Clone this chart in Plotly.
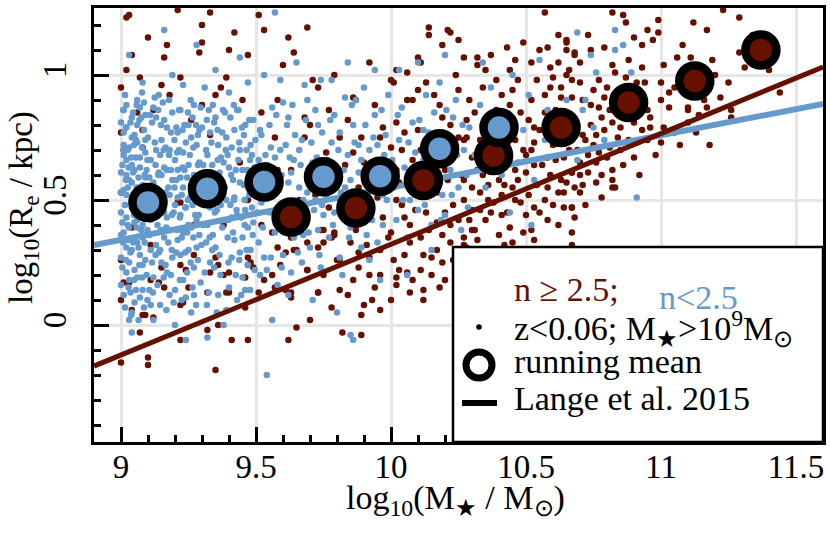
import numpy as np
import plotly.graph_objects as go

# galaxies with Sersic n >= 2.5  (log10 M*, log10 Re)
red_pts = [
    (9.02, 1.23), (9.03, 1.24), (9.21, 1.26), (9.33, 1.25), (9.30, 1.20), (9.42, 1.17), (9.10, 1.15),
    (9.17, 1.12), (9.30, 1.13), (9.29, 1.09), (9.04, 1.08), (9.16, 1.07), (9.02, 1.02), (9.22, 0.99),
    (9.39, 0.99), (9.07, 0.99), (9.00, 0.95), (9.15, 0.96), (9.37, 0.95), (9.12, 0.86), (9.00, 0.77),
    (9.08, 0.78), (9.33, 0.76), (9.57, 0.75), (9.30, 0.88), (9.08, 0.71), (9.22, 0.49), (9.00, 0.53),
    (9.00, 0.10), (9.04, 0.06), (9.08, 0.04), (9.12, 0.03), (9.07, -0.03), (9.00, -0.15), (9.10, -0.13),
    (9.10, -0.16), (9.35, -0.18), (9.32, 0.13), (9.22, 0.08), (9.22, -0.06), (9.32, -0.02), (9.36, 0.00),
    (9.41, -0.06), (9.47, -0.06), (9.40, 0.13), (9.46, 0.07), (9.49, 0.23), (9.38, 0.20), (9.33, 0.21),
    (9.14, 0.17), (9.11, 0.18), (9.01, 0.17), (9.24, 0.22), (9.40, 0.21), (9.46, 0.19), (9.21, 0.49),
    (9.04, 0.39), (9.11, 0.32), (9.00, 0.26), (9.03, 0.17), (9.15, 0.23), (9.25, 0.15), (9.23, 0.09),
    (9.09, 0.04), (9.36, 0.24), (9.39, 0.13), (9.27, 0.28), (9.47, 0.24), (9.46, 0.50), (9.35, 0.27),
    (9.22, 0.24), (9.16, 0.15), (9.51, 1.24), (9.53, 1.18), (9.47, 1.08), (9.60, 1.04),
    (9.69, 1.19), (9.62, 1.15), (9.64, 1.09), (9.71, 0.98), (9.79, 1.00), (9.73, 0.95), (9.86, 0.91),
    (10.00, 0.98), (10.06, 1.01), (9.97, 0.79), (10.02, 0.81), (9.77, 0.86), (9.68, 0.83), (9.68, 0.75),
    (9.89, 0.75), (9.86, 0.69), (9.90, 0.65), (9.76, 0.69), (9.83, 0.64), (9.92, 1.05), (10.02, 1.02),
    (9.81, 0.75), (9.70, 0.80), (9.96, 0.75), (10.00, 0.71), (9.47, 0.50), (9.63, 0.62), (9.69, 0.33),
    (9.75, 0.38), (9.78, 0.35), (9.80, 0.26), (9.56, 0.37), (9.58, 0.31), (9.59, 0.24), (9.56, 0.20),
    (9.63, 0.13), (9.69, 0.22), (9.73, 0.13), (9.48, 0.25), (9.53, 0.18), (9.57, 0.15), (9.65, -0.01),
    (9.51, 0.13), (9.47, 0.27), (9.82, -0.03), (9.89, -0.04), (9.89, 0.04), (9.90, 0.08), (9.96, 0.06),
    (9.93, 0.10), (9.73, 0.13), (9.63, 0.11), (9.81, 0.14), (9.96, 0.20), (10.02, 0.16), (10.02, 0.19),
    (10.12, 0.14), (10.12, 0.10), (10.18, 0.15), (9.92, 0.20), (9.88, 0.23), (10.06, 0.21), (10.08, 0.18),
    (10.03, 0.22), (10.11, 0.22), (10.19, 0.25), (9.69, 0.22), (9.61, 0.14), (9.65, 0.30), (9.81, 0.26),
    (9.88, 0.29), (9.92, 0.27), (10.01, 0.26), (10.05, 0.28), (10.15, 0.27), (9.63, 0.35), (9.75, 0.33),
    (9.85, 0.33), (9.96, 0.30), (9.99, 0.35), (9.74, 0.38), (9.79, 0.37), (9.91, 0.32), (9.64, 0.30),
    (9.61, 0.29), (9.73, 0.31), (9.79, 0.36), (9.87, 0.38), (9.84, 0.43), (9.90, 0.45), (9.95, 0.51),
    (9.97, 0.43), (10.00, 0.37), (10.02, 0.50), (10.05, 0.43), (10.07, 0.33), (10.11, 0.35), (10.14, 0.38),
    (10.17, 0.41), (10.20, 0.45), (10.23, 0.48), (10.27, 0.50), (10.30, 0.55), (10.33, 0.53), (10.36, 0.56),
    (10.40, 0.58), (10.44, 0.65), (10.45, 0.55), (10.50, 0.61), (10.54, 0.56), (10.58, 0.55), (10.62, 0.53),
    (10.67, 0.47), (10.68, 0.55), (10.63, 0.58), (10.67, 0.61), (10.64, 0.67), (10.58, 0.67), (10.56, 0.64),
    (10.50, 0.68), (10.53, 0.79), (10.57, 0.85), (10.53, 0.73), (10.46, 0.74), (10.51, 0.82), (10.67, 0.98),
    (10.63, 0.91), (10.59, 0.95), (10.52, 0.90), (10.45, 0.94), (10.54, 0.98), (10.66, 1.02), (10.62, 1.05),
    (10.59, 1.03), (10.68, 1.08), (10.65, 1.10), (10.65, 1.14), (10.58, 1.11), (10.62, 1.16), (10.57, 1.25),
    (10.25, 0.94), (10.34, 0.95), (10.39, 0.98), (10.44, 1.02), (10.52, 1.05), (10.46, 1.06), (10.49, 1.13),
    (10.43, 1.11), (10.37, 1.08), (10.27, 1.07), (10.32, 1.04), (10.32, 1.07), (10.25, 1.14), (10.10, 1.07),
    (10.19, 1.12), (10.22, 1.17), (10.21, 1.18), (10.14, 1.16), (10.14, 1.19), (10.11, 1.05), (10.33, 0.74),
    (10.30, 0.67), (10.27, 0.74), (10.33, 0.46), (10.38, 0.49), (10.43, 0.45), (10.48, 0.49), (10.49, 0.37),
    (10.44, 0.39), (10.40, 0.36), (10.30, 0.38), (10.27, 0.35), (10.22, 0.33), (10.17, 0.30), (10.12, 0.28),
    (10.01, 0.97), (10.08, 0.90), (9.87, 0.90), (10.10, 0.94), (10.31, 0.38), (10.32, 0.34), (10.23, 0.26),
    (10.28, 0.31), (10.27, 0.32), (10.82, 1.25), (10.86, 1.24), (10.87, 1.21), (10.99, 1.22), (11.12, 1.21),
    (11.17, 1.18), (11.23, 1.26), (11.29, 1.23), (10.95, 1.18), (10.93, 1.12), (10.97, 1.14), (10.99, 1.17),
    (10.79, 1.11), (10.74, 1.10), (10.70, 1.05), (10.65, 1.13), (10.68, 1.09), (10.73, 1.16), (10.88, 1.06),
    (10.82, 1.04), (10.83, 1.01), (10.93, 1.03), (11.01, 1.04), (11.06, 1.07), (11.11, 1.07), (11.19, 1.06),
    (11.29, 1.09), (11.31, 1.03), (11.40, 1.02), (11.25, 0.97), (11.16, 0.90), (11.10, 0.86), (11.44, 0.93),
    (11.26, 0.83), (11.00, 0.97), (11.03, 0.93), (11.00, 0.90), (10.94, 0.97), (10.89, 0.94), (10.87, 0.99),
    (10.77, 0.98), (10.75, 0.94), (10.70, 0.97), (10.65, 1.00), (10.67, 0.91), (10.77, 0.87), (10.79, 0.91),
    (10.95, 0.86), (10.96, 0.83), (11.03, 0.87), (11.10, 0.87), (11.17, 0.87), (11.14, 0.84), (11.10, 0.81),
    (11.01, 0.79), (10.96, 0.79), (10.90, 0.81), (10.93, 0.78), (10.85, 0.79), (10.82, 0.81), (10.78, 0.83),
    (10.74, 0.80), (10.71, 0.76), (10.67, 0.74), (10.75, 0.72), (10.81, 0.71), (10.85, 0.70), (10.91, 0.73),
    (10.95, 0.74), (11.00, 0.73), (11.05, 0.77), (11.13, 0.77), (11.18, 0.72), (11.26, 0.86), (10.80, 0.67),
    (10.76, 0.65), (10.70, 0.65), (10.67, 0.61), (10.73, 0.61), (10.82, 0.62), (10.82, 0.58), (10.82, 0.55),
    (10.83, 0.55), (10.76, 0.57), (10.70, 0.53), (10.64, 0.53), (10.67, 0.47), (10.67, 0.32), (10.65, 0.57),
    (10.64, 0.47), (10.68, 0.43), (10.67, 0.37),
    (10.02, 0.62), (10.04, 0.70), (10.06, 0.57), (10.08, 0.66), (10.10, 0.78), (10.13, 0.62), (10.15, 0.71),
    (10.17, 0.53), (10.19, 0.83), (10.21, 0.58), (10.23, 0.68), (10.26, 0.60), (10.28, 0.82), (10.30, 0.46),
    (10.32, 0.62), (10.35, 0.70), (10.37, 0.45), (10.39, 0.86), (10.41, 0.52), (10.43, 0.72), (10.46, 0.62),
    (10.48, 0.85), (10.50, 0.44), (10.52, 0.70), (10.55, 0.78), (10.57, 0.50), (10.60, 0.72), (10.61, 0.86),
    (10.64, 0.78), (10.66, 0.84), (10.69, 0.70), (10.71, 0.90), (10.73, 0.68), (10.76, 0.76), (10.78, 0.60),
    (10.80, 0.95), (10.84, 0.88), (10.86, 0.64), (10.88, 0.74), (10.90, 0.67), (10.06, 0.90), (10.13, 0.97),
    (10.18, 0.88), (10.24, 1.00), (10.29, 0.90), (10.35, 1.02), (10.41, 0.92), (10.47, 0.98), (10.55, 1.10),
    (10.60, 0.99), (10.07, 0.40), (10.13, 0.45), (10.19, 0.36), (10.25, 0.42), (10.35, 0.42), (10.41, 0.44),
    (10.46, 0.50), (10.53, 0.47), (10.58, 0.42), (10.62, 0.40), (10.39, 0.30), (10.45, 0.33), (10.52, 0.38),
    (10.56, 0.30), (10.60, 0.48), (10.71, 0.56), (10.78, 0.51), (10.72, 0.48), (10.34, 0.80), (10.42, 0.82),
    (10.28, 0.75), (10.22, 0.80), (10.16, 0.66), (10.09, 0.55), (10.04, 0.48), (9.98, 0.56), (9.93, 0.58),
    (9.88, 0.55), (9.82, 0.50), (9.77, 0.47), (9.72, 0.52), (9.66, 0.50), (9.60, 0.45), (9.55, 0.55),
    (9.52, 0.40), (9.58, 0.62), (9.70, 0.62), (9.84, 0.82), (9.94, 0.88), (9.58, 0.90), (9.52, 0.85),
    (9.45, 0.90), (9.40, 1.10), (9.35, 0.92), (9.26, 0.82), (9.18, 0.92), (9.06, 0.85), (9.44, 0.65),
    (9.38, 0.40), (9.27, 0.40), (9.13, 0.44), (9.06, 0.50), (9.62, -0.06), (9.70, 0.02), (9.78, 0.07),
    (9.84, 0.12), (9.75, 0.20), (9.86, 0.18), (9.94, 0.15), (10.00, 0.10), (10.07, 0.13), (10.15, 0.20),
    (10.20, 0.18), (10.24, 0.22), (10.28, 0.24), (10.33, 0.27), (10.36, 0.30), (10.42, 0.32), (10.48, 0.30),
    (10.53, 0.34), (11.05, 0.95), (11.08, 1.12), (11.15, 0.96), (11.20, 1.00), (11.22, 0.91), (11.34, 1.16),
    (10.92, 0.60), (10.98, 0.68), (11.07, 0.72), (10.90, 1.15),
    (10.03, 0.57), (10.05, 0.77), (10.09, 0.46), (10.11, 0.70), (10.14, 0.52), (10.16, 0.92), (10.20, 0.62),
    (10.22, 0.40), (10.25, 0.75), (10.27, 0.58), (10.29, 0.42), (10.31, 0.85), (10.34, 0.60), (10.36, 0.50),
    (10.38, 0.76), (10.40, 0.66), (10.42, 0.56), (10.44, 0.88), (10.47, 0.58), (10.49, 0.70), (10.51, 0.52),
    (10.53, 0.64), (10.55, 0.45), (10.57, 0.92), (10.59, 0.60), (10.61, 0.66), (10.63, 0.95), (10.66, 0.70),
    (10.68, 0.82), (10.70, 0.60), (10.72, 0.74), (10.74, 0.88), (10.77, 0.69), (10.79, 0.78), (10.81, 0.86),
    (10.84, 0.75), (10.86, 0.92), (10.89, 0.86), (10.91, 0.97), (10.94, 0.90),
]

# galaxies with Sersic n < 2.5
blue_pts = [
    (9.01, 0.12), (9.02, 0.31), (9.00, 0.45), (9.03, 0.58), (9.01, 0.72), (9.04, 0.83), (9.02, 0.66),
    (9.05, 0.22), (9.03, 0.39), (9.00, 0.27), (9.06, 0.51), (9.04, 0.05), (9.02, 0.88), (9.07, 0.63),
    (9.01, 0.54), (9.05, 0.76), (9.08, 0.35), (9.03, 0.18), (9.06, 0.42), (9.09, 0.69), (9.00, 0.61),
    (9.07, 0.28), (9.04, 0.47), (9.02, 0.79), (9.08, 0.56), (9.05, 0.09), (9.09, 0.84), (9.01, 0.37),
    (9.06, 0.73), (9.03, 0.25), (9.07, 0.44), (9.00, 0.81), (9.04, 0.64), (9.08, 0.14), (9.02, 0.52),
    (9.06, 0.33), (9.09, 0.59), (9.05, 0.41), (9.01, 0.68), (9.07, 0.87), (9.03, 0.02), (9.08, 0.24),
    (9.00, 0.36), (9.04, 0.75), (9.06, 0.19), (9.02, 0.43), (9.09, 0.49), (9.05, 0.62), (9.01, 0.86),
    (9.07, 0.55), (9.03, 0.71), (9.08, 0.40), (9.04, 0.30), (9.06, 0.80), (9.00, 0.16), (9.09, 0.26),
    (9.02, 0.60), (9.05, 0.50), (9.07, 0.11), (9.01, 0.77), (9.04, -0.03), (9.06, 0.90), (9.03, 1.08),
    (9.08, 0.97), (9.05, 0.34), (9.02, 0.21), (9.09, 0.74), (9.00, 0.53), (9.07, 0.67), (9.04, 0.57),
    (9.11, 0.08), (9.13, 0.32), (9.12, 0.57), (9.15, 0.74), (9.14, 0.45), (9.17, 0.21), (9.16, 0.63),
    (9.19, 0.85), (9.18, 0.38), (9.21, 0.51), (9.20, 0.14), (9.23, 0.69), (9.22, 0.28), (9.25, 0.80),
    (9.24, 0.47), (9.27, 0.60), (9.26, 0.05), (9.29, 0.36), (9.28, 0.72), (9.11, 0.66), (9.13, 0.83),
    (9.15, 0.25), (9.17, 0.43), (9.19, 0.58), (9.21, 0.77), (9.23, 0.18), (9.25, 0.40), (9.27, 0.88),
    (9.29, 0.53), (9.12, 0.19), (9.14, 0.61), (9.16, 0.35), (9.18, 0.70), (9.20, 0.48), (9.22, 0.86),
    (9.24, 0.11), (9.26, 0.56), (9.28, 0.31), (9.11, 0.42), (9.13, 0.70), (9.15, 0.52), (9.17, 0.79),
    (9.19, 0.27), (9.21, 0.34), (9.23, 0.55), (9.25, 0.64), (9.27, 0.23), (9.29, 0.78), (9.12, 0.87),
    (9.14, 0.29), (9.16, 0.82), (9.18, 0.12), (9.20, 0.66), (9.22, 0.44), (9.24, 0.73), (9.26, 0.39),
    (9.28, 0.50), (9.10, 0.75), (9.13, 0.50), (9.17, 0.62), (9.21, 0.62), (9.25, 0.30), (9.29, 0.65),
    (9.14, 0.92), (9.19, 1.00), (9.23, 0.96), (9.28, 1.12), (9.16, 1.18), (9.12, 0.02), (9.20, 0.00),
    (9.24, -0.06), (9.27, 0.12), (9.15, 0.60), (9.22, 0.59), (9.18, 0.52), (9.26, 0.75), (9.11, 0.30),
    (9.28, 0.42), (9.23, 0.37), (9.16, 0.45), (9.31, 0.21), (9.33, 0.47), (9.32, 0.68), (9.35, 0.83),
    (9.34, 0.36), (9.37, 0.58), (9.36, 0.12), (9.39, 0.75), (9.38, 0.42), (9.41, 0.27), (9.40, 0.63),
    (9.43, 0.86), (9.42, 0.51), (9.45, 0.19), (9.44, 0.70), (9.47, 0.39), (9.46, 0.80), (9.49, 0.55),
    (9.48, 0.30), (9.31, 0.60), (9.33, 0.77), (9.35, 0.31), (9.37, 0.48), (9.39, 0.06), (9.41, 0.71),
    (9.43, 0.44), (9.45, 0.62), (9.47, 0.24), (9.49, 0.82), (9.32, 0.40), (9.34, 0.88), (9.36, 0.53),
    (9.38, 0.65), (9.40, 0.15), (9.42, 0.34), (9.44, 0.57), (9.46, 0.46), (9.48, 0.72), (9.30, 0.52),
    (9.33, 0.25), (9.36, 0.72), (9.39, 0.50), (9.42, 0.78), (9.45, 0.35), (9.48, 0.61), (9.31, 0.95),
    (9.35, 1.02), (9.40, 0.93), (9.44, 1.07), (9.47, 0.97), (9.32, -0.05), (9.38, 0.00), (9.43, 0.10),
    (9.46, 0.14), (9.34, 0.59), (9.41, 0.43), (9.37, 0.67), (9.49, 0.41), (9.44, 0.29), (9.30, 0.79),
    (9.51, 0.33), (9.53, 0.58), (9.52, 0.76), (9.55, 0.45), (9.54, 0.22), (9.57, 0.67), (9.56, 0.87),
    (9.59, 0.39), (9.58, 0.54), (9.61, 0.72), (9.60, 0.28), (9.63, 0.61), (9.62, 0.83), (9.65, 0.47),
    (9.64, 0.35), (9.67, 0.74), (9.66, 0.55), (9.69, 0.90), (9.68, 0.42), (9.71, 0.65), (9.70, 0.31),
    (9.73, 0.80), (9.72, 0.50), (9.74, 0.60), (9.52, 0.49), (9.55, 0.80), (9.58, 0.16), (9.61, 0.48),
    (9.64, 0.66), (9.67, 0.25), (9.70, 0.57), (9.73, 0.38), (9.54, 0.64), (9.57, 0.37), (9.60, 0.89),
    (9.63, 0.21), (9.66, 0.70), (9.69, 0.53), (9.72, 0.86), (9.75, 0.44), (9.54, -0.20), (9.56, 0.02),
    (9.62, 0.12), (9.71, 0.10), (9.53, 1.00), (9.59, 0.98), (9.65, 1.05), (9.68, 0.96), (9.57, 1.25),
    (9.74, 0.98), (9.51, 0.66), (9.59, 0.70), (9.66, 0.40), (9.62, 0.57), (9.74, 0.23), (9.53, 0.27),
    (9.76, 0.52), (9.78, 0.73), (9.77, 0.35), (9.80, 0.62), (9.79, 0.84), (9.82, 0.45), (9.81, 0.27),
    (9.84, 0.68), (9.83, 0.55), (9.86, 0.80), (9.85, 0.39), (9.88, 0.61), (9.87, 0.90), (9.90, 0.48),
    (9.89, 0.31), (9.92, 0.70), (9.91, 0.57), (9.94, 0.84), (9.93, 0.42), (9.96, 0.64), (9.95, 0.33),
    (9.98, 0.76), (9.97, 0.52), (9.99, 0.92), (9.77, 0.60), (9.81, 0.77), (9.85, 0.58), (9.89, 0.66),
    (9.93, 0.60), (9.97, 0.40), (9.79, 0.45), (9.83, 0.91), (9.87, 0.47), (9.91, 0.36), (9.95, 0.72),
    (9.99, 0.58), (9.80, 0.05), (9.86, -0.06), (9.85, -0.04), (9.96, 0.18), (9.78, 0.98), (9.84, 1.05),
    (9.90, 0.95), (9.94, 1.02), (9.82, 0.20), (9.88, 0.72), (9.92, 0.26), (10.01, 0.55), (10.03, 0.74),
    (10.02, 0.42), (10.05, 0.63), (10.04, 0.87), (10.07, 0.50), (10.06, 0.35), (10.09, 0.69), (10.08, 0.81),
    (10.11, 0.58), (10.10, 0.46), (10.13, 0.92), (10.12, 0.66), (10.15, 0.40), (10.14, 0.77), (10.17, 0.60),
    (10.16, 0.85), (10.19, 0.52), (10.18, 0.97), (10.21, 0.72), (10.20, 0.44), (10.23, 0.83), (10.22, 0.62),
    (10.25, 0.55), (10.24, 0.90), (10.27, 0.70), (10.26, 0.38), (10.29, 0.79), (10.28, 0.60), (10.03, 1.02),
    (10.10, 1.05), (10.20, 1.08), (10.06, 0.20), (10.15, 0.30), (10.25, 0.25), (10.12, 0.78), (10.31, 0.68),
    (10.33, 0.88), (10.35, 0.55), (10.37, 0.95), (10.39, 0.72), (10.41, 0.60), (10.43, 0.84), (10.45, 1.00),
    (10.47, 0.65), (10.49, 0.78), (10.51, 0.92), (10.53, 0.58), (10.55, 1.06), (10.57, 0.74), (10.34, 1.05),
    (10.44, 0.45), (10.52, 0.40), (10.58, 0.86), (10.69, 1.17), (10.83, 1.18), (10.83, 1.10), (10.86, 1.12),
    (10.74, 1.08), (10.76, 1.01), (10.89, 1.01), (10.65, 0.90), (10.72, 0.90), (10.71, 0.86), (10.75, 0.79),
    (10.79, 0.74), (10.69, 0.66), (10.91, 0.51),
    (9.015, 0.48), (9.025, 0.70), (9.035, 0.29), (9.045, 0.85), (9.055, 0.14), (9.065, 0.59), (9.075, 0.38),
    (9.085, 0.78), (9.095, 0.20), (9.005, 0.64), (9.015, 0.07), (9.025, 0.55), (9.035, 0.81), (9.045, 0.33),
    (9.055, 0.67), (9.065, 0.02), (9.075, 0.50), (9.085, 0.89), (9.095, 0.45), (9.005, 0.23), (9.015, 0.92),
    (9.025, 0.40), (9.035, 0.13), (9.045, 0.61), (9.055, 0.74), (9.065, 0.31), (9.075, 0.83), (9.085, 0.07),
    (9.095, 0.62), (9.005, 0.41), (9.105, 0.36), (9.115, 0.81), (9.125, 0.47), (9.135, 0.16), (9.145, 0.68),
    (9.155, 0.89), (9.165, 0.24), (9.175, 0.55), (9.185, 0.77), (9.195, 0.09), (9.205, 0.58), (9.215, 0.86),
    (9.225, 0.35), (9.235, 0.62), (9.245, 0.21), (9.255, 0.51), (9.265, 0.83), (9.275, 0.44), (9.285, 0.64),
    (9.295, 0.17), (9.105, 0.59), (9.115, 0.25), (9.125, 0.73), (9.135, 0.40), (9.145, 0.08), (9.155, 0.49),
    (9.165, 0.71), (9.175, 0.33), (9.185, 0.62), (9.195, 0.45), (9.205, 0.29), (9.215, 0.70), (9.225, 0.52),
    (9.235, 0.80), (9.245, 0.37), (9.255, 0.68), (9.265, 0.15), (9.275, 0.57), (9.285, 0.26), (9.295, 0.87),
    (9.105, 0.14), (9.125, 0.91), (9.145, 0.30), (9.165, 0.53), (9.185, 0.20), (9.205, 0.79), (9.225, 0.10),
    (9.245, 0.59), (9.265, 0.48), (9.285, 0.76), (9.305, 0.40), (9.315, 0.70), (9.325, 0.13), (9.335, 0.57),
    (9.345, 0.81), (9.355, 0.46), (9.365, 0.28), (9.375, 0.77), (9.385, 0.55), (9.395, 0.35), (9.405, 0.83),
    (9.415, 0.58), (9.425, 0.20), (9.435, 0.66), (9.445, 0.43), (9.455, 0.76), (9.465, 0.30), (9.475, 0.52),
    (9.485, 0.68), (9.495, 0.22), (9.305, 0.64), (9.325, 0.86), (9.345, 0.23), (9.365, 0.61), (9.385, 0.85),
    (9.405, 0.48), (9.425, 0.62), (9.445, 0.12), (9.465, 0.70), (9.485, 0.47), (9.315, 0.33), (9.335, 0.73),
    (9.355, 0.05), (9.375, 0.39), (9.395, 0.68), (9.415, 0.37), (9.435, 0.86), (9.455, 0.56), (9.475, 0.82),
    (9.495, 0.63), (9.505, 0.45), (9.515, 0.78), (9.525, 0.39), (9.535, 0.68), (9.545, 0.51), (9.555, 0.27),
    (9.565, 0.61), (9.575, 0.84), (9.585, 0.45), (9.595, 0.60), (9.605, 0.37), (9.615, 0.80), (9.625, 0.67),
    (9.635, 0.43), (9.645, 0.76), (9.655, 0.29), (9.665, 0.64), (9.675, 0.50), (9.685, 0.82), (9.695, 0.37),
    (9.705, 0.73), (9.715, 0.46), (9.725, 0.67), (9.735, 0.28), (9.745, 0.77), (9.515, 0.20), (9.555, 0.71),
    (9.595, 0.23), (9.635, 0.88), (9.675, 0.36), (9.715, 0.55), (9.745, 0.48), (9.765, 0.66), (9.785, 0.40),
    (9.805, 0.70), (9.825, 0.62), (9.845, 0.35), (9.865, 0.73), (9.885, 0.53), (9.905, 0.80), (9.925, 0.46),
    (9.945, 0.65), (9.965, 0.86), (9.985, 0.50), (9.775, 0.82), (9.815, 0.53), (9.855, 0.88), (9.895, 0.42),
    (9.935, 0.75), (9.975, 0.68), (10.005, 0.66), (10.025, 0.84), (10.045, 0.50), (10.065, 0.73),
    (10.085, 0.60), (10.105, 0.82), (10.125, 0.48), (10.145, 0.64), (10.165, 0.74), (10.185, 0.42),
    (10.205, 0.86), (10.225, 0.52), (10.245, 0.68), (10.265, 0.80), (10.285, 0.47),
    (9.008, 0.33), (9.018, 0.58), (9.028, 0.15), (9.038, 0.49), (9.048, 0.72), (9.058, 0.39), (9.068, 0.82),
    (9.078, 0.19), (9.088, 0.52), (9.098, 0.66), (9.008, 0.86), (9.018, 0.26), (9.028, 0.63), (9.038, 0.04),
    (9.048, 0.44), (9.058, 0.88), (9.068, 0.24), (9.078, 0.71), (9.088, 0.33), (9.098, 0.10), (9.008, 0.70),
    (9.018, 0.79), (9.028, 0.34), (9.038, 0.67), (9.048, 0.18), (9.058, 0.55), (9.068, 0.47), (9.078, 0.93),
    (9.088, 0.60), (9.098, 0.38), (9.108, 0.50), (9.118, 0.13), (9.128, 0.64), (9.138, 0.86), (9.148, 0.38),
    (9.158, 0.70), (9.168, 0.06), (9.178, 0.90), (9.188, 0.44), (9.198, 0.74), (9.208, 0.38), (9.218, 0.18),
    (9.228, 0.78), (9.238, 0.47), (9.248, 0.85), (9.258, 0.25), (9.268, 0.71), (9.278, 0.08), (9.288, 0.44),
    (9.298, 0.58), (9.108, 0.84), (9.118, 0.53), (9.128, 0.28), (9.138, 0.60), (9.148, 0.80), (9.158, 0.19),
    (9.168, 0.39), (9.178, 0.68), (9.188, 0.30), (9.198, 0.55), (9.208, 0.69), (9.218, 0.43), (9.228, 0.63),
    (9.238, 0.29), (9.248, 0.50), (9.258, 0.90), (9.268, 0.35), (9.278, 0.80), (9.288, 0.56), (9.298, 0.32),
    (9.308, 0.55), (9.318, 0.82), (9.328, 0.35), (9.338, 0.64), (9.348, 0.45), (9.358, 0.78), (9.368, 0.20),
    (9.378, 0.52), (9.388, 0.70), (9.398, 0.42), (9.408, 0.60), (9.418, 0.88), (9.428, 0.46), (9.438, 0.26),
    (9.448, 0.79), (9.458, 0.50), (9.468, 0.62), (9.478, 0.14), (9.488, 0.36), (9.498, 0.74), (9.318, 0.08),
    (9.338, 0.30), (9.358, 0.66), (9.378, 0.86), (9.398, 0.25), (9.418, 0.50), (9.438, 0.73), (9.458, 0.40),
    (9.478, 0.66), (9.498, 0.52),
]

# running means (binned)
red_mean_x = [9.63, 9.87, 10.12, 10.38, 10.63, 10.88, 11.125, 11.37]
red_mean_y = [0.432, 0.468, 0.578, 0.678, 0.79, 0.89, 0.976, 1.10]
blue_mean_x = [9.10, 9.32, 9.53, 9.75, 9.96, 10.18, 10.40]
blue_mean_y = [0.49, 0.545, 0.572, 0.593, 0.595, 0.705, 0.79]

# Lange et al. 2015 relations: log Re = zp + slope * (log M - 10)
lange_red = {"zp": 0.323, "slope": 0.443}
lange_blue = {"zp": 0.550, "slope": 0.209}

x_range = [8.9, 11.6]
y_range = [-0.468, 1.268]

RED = "#661100"
BLUE = "#6699CC"
FONT = "Liberation Serif"

rx, ry = zip(*red_pts)
bx, by = zip(*blue_pts)
lx = np.array(x_range)

fig = go.Figure()
fig.add_trace(go.Scatter(x=rx, y=ry, mode="markers",
                         marker=dict(size=6.5, color=RED, line_width=0)))
fig.add_trace(go.Scatter(x=bx, y=by, mode="markers",
                         marker=dict(size=6.5, color=BLUE, line_width=0)))
fig.add_trace(go.Scatter(x=lx, y=lange_blue["zp"] + lange_blue["slope"] * (lx - 10),
                         mode="lines", line=dict(color=BLUE, width=6)))
fig.add_trace(go.Scatter(x=lx, y=lange_red["zp"] + lange_red["slope"] * (lx - 10),
                         mode="lines", line=dict(color=RED, width=5)))
fig.add_trace(go.Scatter(x=red_mean_x, y=red_mean_y, mode="markers",
                         marker=dict(size=31, color=RED, line=dict(color="black", width=8.5))))
fig.add_trace(go.Scatter(x=blue_mean_x, y=blue_mean_y, mode="markers",
                         marker=dict(size=31, color=BLUE, line=dict(color="black", width=8.5))))

axis_common = dict(
    automargin=False,
    showline=True, linecolor="black", linewidth=3, mirror=True,
    ticks="inside", ticklen=15, tickwidth=3, tickcolor="black",
    showgrid=True, gridcolor="#E6E6E6", gridwidth=3, zeroline=False,
    tickfont=dict(family=FONT, size=33, color="black"),
    minor=dict(dtick=0.1, ticks="inside", ticklen=7, tickwidth=2.5,
               tickcolor="black", showgrid=False),
)

fig.update_xaxes(range=x_range, tick0=9, dtick=0.5, ticklabelstandoff=-7, **axis_common)
fig.update_yaxes(range=y_range, tick0=0, dtick=0.5, tickangle=-90, ticklabelstandoff=12,
                 **axis_common)

# plot box in page pixels, used to place the hand-made legend and titles
L, R, B, T = 94, 823, 442, 8


def px_x(p):
    return (p - L) / (R - L)


def px_y(p):
    return (B - p) / (B - T)


shapes = [
    dict(type="rect", xref="paper", yref="paper", x0=px_x(453), x1=1.0, y0=0.0, y1=px_y(247),
         fillcolor="white", line=dict(color="black", width=2.5), layer="above"),
    dict(type="circle", xref="paper", yref="paper", xsizemode="pixel", ysizemode="pixel",
         xanchor=px_x(479), yanchor=px_y(327), x0=-2.8, x1=2.8, y0=-2.8, y1=2.8,
         fillcolor="black", line=dict(color="black", width=0), layer="above"),
    dict(type="circle", xref="paper", yref="paper", xsizemode="pixel", ysizemode="pixel",
         xanchor=px_x(479), yanchor=px_y(365), x0=-13, x1=13, y0=-13, y1=13,
         fillcolor="white", line=dict(color="black", width=7), layer="above"),
    dict(type="line", xref="paper", yref="paper", x0=px_x(462), x1=px_x(497),
         y0=px_y(403), y1=px_y(403), line=dict(color="black", width=6), layer="above"),
]

ann = [
    ("n ≥ 2.5;", RED, 512, 289, 34),
    ("n&lt;2.5", BLUE, 657, 297, 34),
    ("z&lt;0.06; M<sub>★</sub>&gt;10<sup>9</sup>M<sub>⊙</sub>", "black", 512, 328, 34),
    ("running mean", "black", 512, 361, 34),
    ("Lange et al. 2015", "black", 512, 398, 34),
]
annotations = [dict(text=t, x=px_x(x), y=px_y(y), xref="paper", yref="paper",
                    xanchor="left", yanchor="middle", showarrow=False,
                    font=dict(family=FONT, size=s, color=c))
               for t, c, x, y, s in ann]

# axis titles
annotations.append(dict(text="log<sub>10</sub>(M<sub>★</sub> / M<sub>⊙</sub>)",
                        x=px_x(455), y=px_y(500), xref="paper", yref="paper",
                        xanchor="center", yanchor="middle", showarrow=False,
                        font=dict(family=FONT, size=34, color="black")))
annotations.append(dict(text="log<sub>10</sub>(R<sub>e</sub> / kpc)", textangle=-90,
                        x=px_x(23), y=px_y(208), xref="paper", yref="paper",
                        xanchor="center", yanchor="middle", showarrow=False,
                        font=dict(family=FONT, size=33, color="black")))

fig.update_layout(
    width=830, height=536,
    margin=dict(l=L, r=830 - R, t=T, b=536 - B),
    paper_bgcolor="white", plot_bgcolor="white",
    showlegend=False,
    shapes=shapes, annotations=annotations,
    font=dict(family=FONT, color="black"),
)

fig.write_html("out.html", config={"displayModeBar": False},
               post_script="document.body.style.margin = '0px';")
